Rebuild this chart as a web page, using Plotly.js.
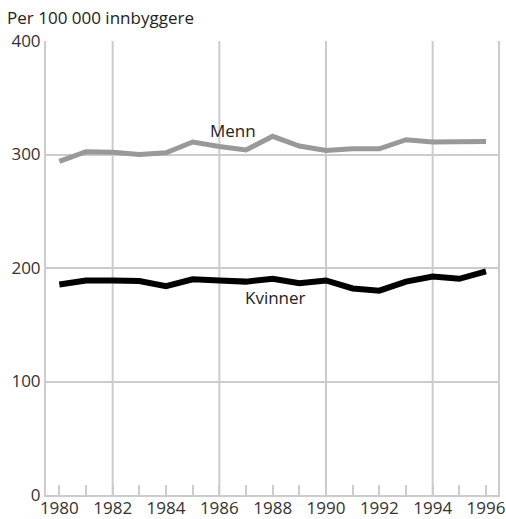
<!DOCTYPE html>
<html>
<head>
<meta charset="utf-8">
<script src="https://cdn.plot.ly/plotly-3.0.1.min.js"></script>
<style>html,body{margin:0;padding:0;background:#fff;}#chart{width:506px;height:519px;}</style>
</head>
<body>
<div id="chart"></div>
<script>
const years = [1980,1981,1982,1983,1984,1985,1986,1987,1988,1989,1990,1991,1992,1993,1994,1995,1996];
const menn = [294,302.5,302,300,301.5,311,307,304,316,307.5,303.5,305,305,313,311,311.5,311.5];
const kvinner = [185.5,189,189,188.5,184,190,189,188,190.5,186.5,189,182,180,188,192.5,190.5,197];
const labelYears = [1980,1982,1984,1986,1988,1990,1992,1994,1996];
const gridYears = [1982,1986,1990,1994];
const yTicks = [0,100,200,300,400];
const titleText = "Per 100 000 innbyggere";

const gridColor = "#cccccc";
const font = "Open Sans, Noto Sans, sans-serif";

const traces = [
  {x: years, y: menn, mode: "lines", name: "Menn", line: {color: "#999999", width: 5}, hoverinfo: "x+y"},
  {x: years, y: kvinner, mode: "lines", name: "Kvinner", line: {color: "#000000", width: 6}, hoverinfo: "x+y"}
];

const shapes = gridYears.map(g => ({
  type: "line", xref: "x", yref: "y", x0: g, x1: g, y0: 0, y1: 400,
  line: {color: gridColor, width: 2}, layer: "below"
}));

const layout = {
  width: 506, height: 519,
  margin: {l: 46, r: 8, t: 41, b: 24},
  paper_bgcolor: "#fff", plot_bgcolor: "#fff",
  showlegend: false,
  font: {family: font, size: 17, color: "#333"},
  title: {text: titleText, x: 0.014, xanchor: "left", xref: "container", y: 0.965, yref: "container", yanchor: "middle",
          font: {family: font, size: 17, color: "#222"}},
  xaxis: {
    range: [1979.5, 1996.45],
    tickvals: labelYears, ticktext: labelYears.map(String),
    ticks: "inside", ticklen: 10, tickwidth: 2, tickcolor: gridColor,
    ticklabelstandoff: -3,
    minor: {dtick: 1, tick0: 1980, ticks: "inside", ticklen: 10, tickwidth: 2, tickcolor: gridColor, showgrid: false},
    showgrid: false, zeroline: false,
    showline: true, linecolor: gridColor, linewidth: 2, mirror: false,
    tickfont: {family: font, size: 17, color: "#333"}
  },
  yaxis: {
    range: [0, 400], tickvals: yTicks,
    showgrid: true, gridcolor: gridColor, gridwidth: 2,
    zeroline: false, showline: true, linecolor: gridColor, linewidth: 2, mirror: true,
    ticks: "", tickfont: {family: font, size: 17, color: "#333"}
  },
  shapes: shapes,
  annotations: [
    {x: 1986.5, y: 321, xref: "x", yref: "y", text: "Menn", showarrow: false, font: {family: font, size: 17, color: "#222"}},
    {x: 1988.1, y: 174, xref: "x", yref: "y", text: "Kvinner", showarrow: false, font: {family: font, size: 17, color: "#222"}}
  ]
};

Plotly.newPlot("chart", traces, layout, {displayModeBar: false, staticPlot: true});
</script>
</body>
</html>
